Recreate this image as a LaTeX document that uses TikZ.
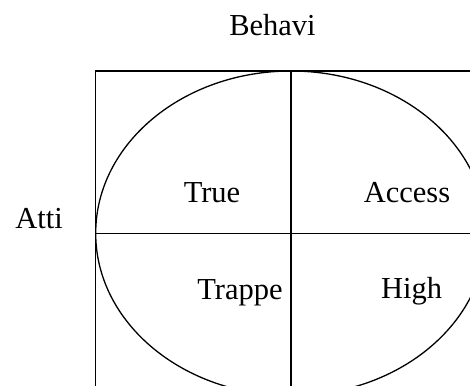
\documentclass[tikz,border=0pt]{standalone}
\usepackage{fontspec}
\setmainfont{Liberation Serif}

\begin{document}
\begin{tikzpicture}[
    x=1pt, y=-1pt,
    word/.style={font=\fontsize{30.5}{36}\selectfont, anchor=base, inner sep=0pt},
    frame/.style={draw, line width=1.3pt}
]
\useasboundingbox (0,0) rectangle (470,385);

% Frame, axes and oval
\coordinate (c) at (291,233.3);
\coordinate (tl) at (95.7,71);
\coordinate (br) at (486.3,395.6);
\draw[frame] (tl) rectangle (br);
\draw[frame] (c |- tl) -- (c |- br);
\draw[frame] (c -| tl) -- (c -| br);
\draw[frame] (c) ellipse [x radius=195.3, y radius=162.3];

% Axis titles
\node[word] (behav) at (272.5,36) {Behavi};
\node[word] (atti) at (39,228) {Atti};

% Quadrants
\node[word] (true) at (212,202) {True};
\node[word] (access) at (407,202) {Access};
\node[word] (trappe) at (240,299) {Trappe};
\node[word] (high) at (411.5,298) {High};

\end{tikzpicture}
\end{document}
